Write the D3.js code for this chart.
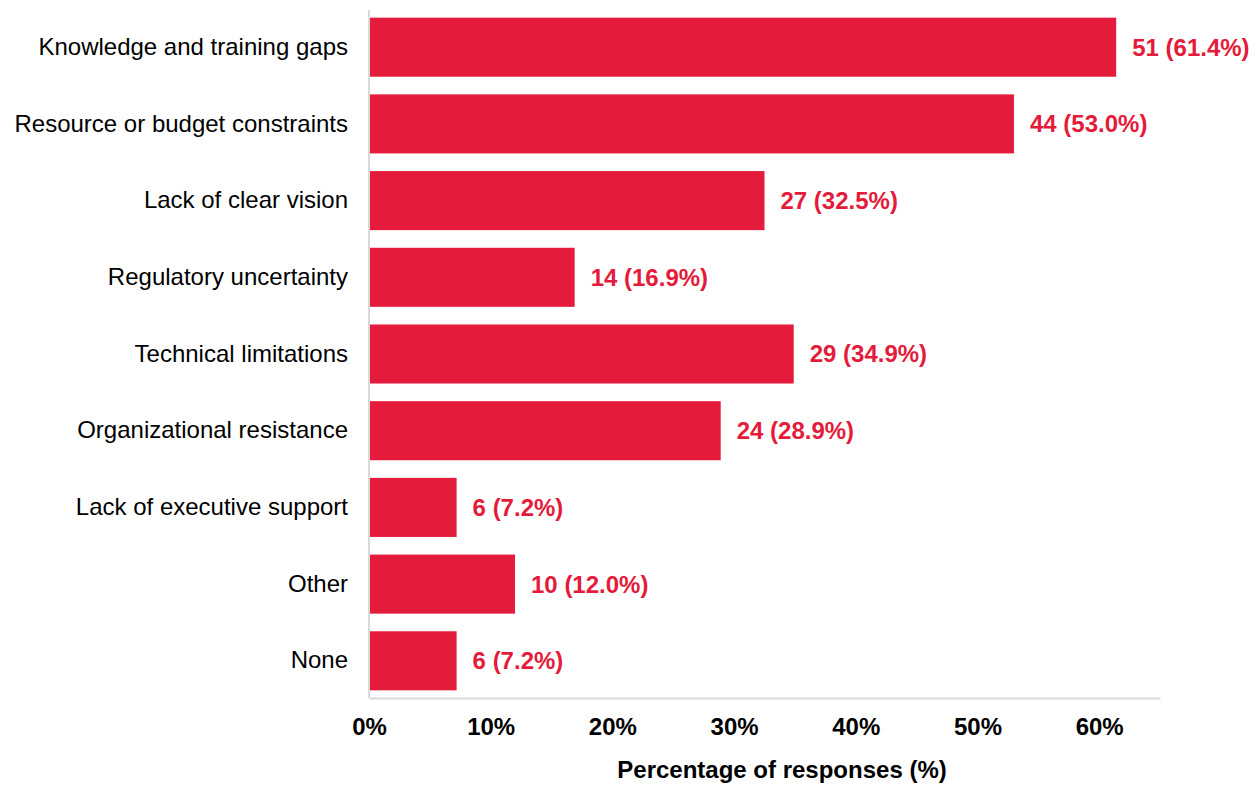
<!DOCTYPE html>
<html>
<head>
<meta charset="utf-8">
<script src="https://cdn.jsdelivr.net/npm/d3@7"></script>
<style>
  html, body { margin: 0; padding: 0; background: #ffffff; }
  svg { display: block; font-family: "Liberation Sans", Arial, Helvetica, sans-serif; }
</style>
</head>
<body>
<svg id="chart" width="1260" height="785"></svg>
<script>
// Survey: barriers to adoption
const categories = [
  "Knowledge and training gaps",
  "Resource or budget constraints",
  "Lack of clear vision",
  "Regulatory uncertainty",
  "Technical limitations",
  "Organizational resistance",
  "Lack of executive support",
  "Other",
  "None"
];
const counts = [51, 44, 27, 14, 29, 24, 6, 10, 6];
const percents = [61.4, 53.0, 32.5, 16.9, 34.9, 28.9, 7.2, 12.0, 7.2];
const tickValues = [0, 10, 20, 30, 40, 50, 60];
const xTitle = "Percentage of responses (%)";

const data = categories.map((c, i) => ({ category: c, count: counts[i], pct: percents[i] }));

const svg = d3.select("#chart");
const margin = { left: 369, right: 100, top: 10, bottom: 87 };
const W = 1260, H = 785;
const barColor = "#E41B3A";
const axisColor = "#D9D9D9";
const fontSize = 24;

const x = d3.scaleLinear()
  .domain([0, 65])
  .range([margin.left, W - margin.right]);

const y = d3.scaleBand()
  .domain(categories)
  .range([margin.top, H - margin.bottom])
  .paddingInner(0.23)
  .paddingOuter(0.1);

// bars
svg.append("g")
  .selectAll("rect")
  .data(data)
  .join("rect")
  .attr("x", x(0) + 1)
  .attr("y", d => y(d.category))
  .attr("width", d => x(d.pct) - x(0) - 1)
  .attr("height", y.bandwidth())
  .attr("fill", barColor);

// left axis line
svg.append("line")
  .attr("x1", x(0)).attr("x2", x(0))
  .attr("y1", margin.top).attr("y2", H - margin.bottom)
  .attr("stroke", axisColor).attr("stroke-width", 2);

// bottom axis
const xAxis = d3.axisBottom(x)
  .tickValues(tickValues)
  .tickFormat(d => d + "%")
  .tickSize(0)
  .tickPadding(20);

const gx = svg.append("g")
  .attr("transform", `translate(0,${H - margin.bottom})`)
  .call(xAxis);
gx.select(".domain").attr("stroke", axisColor).attr("stroke-width", 2);
gx.selectAll(".tick text")
  .attr("font-family", "'Liberation Sans', Arial, sans-serif")
  .attr("font-size", fontSize)
  .attr("font-weight", "bold")
  .attr("fill", "#000");

// category labels
const yAxis = d3.axisLeft(y).tickSize(0).tickPadding(21);
const gy = svg.append("g")
  .attr("transform", `translate(${x(0)},0)`)
  .call(yAxis);
gy.select(".domain").remove();
gy.selectAll(".tick text")
  .attr("font-family", "'Liberation Sans', Arial, sans-serif")
  .attr("font-size", fontSize)
  .attr("fill", "#000");

// value labels
svg.append("g")
  .selectAll("text")
  .data(data)
  .join("text")
  .attr("x", d => x(d.pct) + 16)
  .attr("y", d => y(d.category) + y.bandwidth() / 2)
  .attr("dy", "0.35em")
  .attr("font-size", fontSize)
  .attr("font-weight", "bold")
  .attr("fill", barColor)
  .text(d => `${d.count} (${d.pct.toFixed(1)}%)`);

// axis title
svg.append("text")
  .attr("x", 782)
  .attr("y", 778)
  .attr("text-anchor", "middle")
  .attr("font-size", fontSize)
  .attr("font-weight", "bold")
  .attr("fill", "#000")
  .text(xTitle);
</script>
</body>
</html>
